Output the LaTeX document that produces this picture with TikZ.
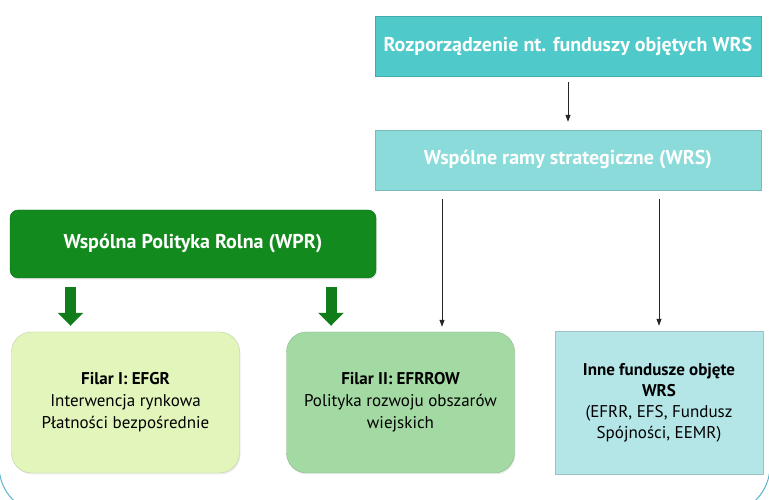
\documentclass[tikz,border=0pt]{standalone}
\usepackage{fontspec}
\setmainfont{PT Sans}
\usetikzlibrary{arrows.meta,shadows}
\definecolor{rozpteal}{HTML}{4FC9C9}
\definecolor{wrsteal}{HTML}{8BDBDB}
\definecolor{wprgreen}{HTML}{138A1D}
\definecolor{filarone}{HTML}{E2F5BB}
\definecolor{filartwo}{HTML}{A3D9A2}
\definecolor{fundblue}{HTML}{B4E6E8}
\definecolor{framecol}{HTML}{5AB4CC}
\tikzset{
  topbox/.style={draw=#1!85!black,fill=#1,minimum width=386pt,minimum height=60pt,
    text=white,font=\bfseries\fontsize{20}{22}\selectfont,
    drop shadow={opacity=0.15,shadow xshift=1pt,shadow yshift=-1.5pt}},
  wprbox/.style={draw=wprgreen!80!black,fill=wprgreen,rounded corners=8pt,
    minimum width=366pt,minimum height=68pt,text=white,
    font=\bfseries\fontsize{20}{22}\selectfont,
    drop shadow={opacity=0.2,shadow xshift=1pt,shadow yshift=-1.5pt}},
  pillar/.style={draw=#1!85!black,fill=#1,rounded corners=20pt,
    minimum width=228pt,minimum height=141pt,align=center,
    font=\fontsize{17}{22}\selectfont,
    drop shadow={opacity=0.15,shadow xshift=1pt,shadow yshift=-1.5pt}},
  fundbox/.style={draw=fundblue!85!black,fill=fundblue,minimum width=208pt,
    minimum height=143pt,align=center,font=\fontsize{17}{21}\selectfont,
    drop shadow={opacity=0.15,shadow xshift=1pt,shadow yshift=-1.5pt}},
  link/.style={-{Triangle[width=5pt,length=7pt]},draw=black!85,line width=0.8pt},
  bigarr/.style={line width=11pt,draw=wprgreen!90!black,
    -{Triangle[width=25pt,length=13pt]},shorten <=9pt,shorten >=6pt},
  frame/.style={draw=framecol,line width=1pt,rounded corners=48pt}
}
\begin{document}
\begin{tikzpicture}[x=1pt,y=1pt]
\useasboundingbox (0,0) rectangle (769,500);
\clip (0,0) rectangle (769,500);
\draw[frame] (-1,-14) rectangle (770,560);

\node[topbox=rozpteal] (rozp) at (568,454) {Rozporządzenie nt. funduszy objętych WRS};
\node[topbox=wrsteal] (wrs) at (568,340) {Wspólne ramy strategiczne (WRS)};
\node[wprbox] (wpr) at (193,256) {Wspólna Polityka Rolna (WPR)};

\node[pillar=filarone] (filar1) at (125.5,97.5) {\textbf{Filar I: EFGR}\\Interwencja rynkowa\\Płatności bezpośrednie};
\node[pillar=filartwo] (filar2) at (400.5,97.5) {\textbf{Filar II: EFRROW}\\Polityka rozwoju obszarów\\wiejskich};
\node[fundbox] (inne) at (659,97.5) {\textbf{Inne fundusze objęte}\\\textbf{WRS}\\(EFRR, EFS, Fundusz\\Spójności, EEMR)};

% thin arrows from the WRS boxes
\coordinate (a1) at (442,0);
\draw[link,shorten <=6pt,shorten >=8pt] (rozp) -- (wrs);
\draw[link,shorten <=9pt,shorten >=5pt] (wrs.south -| a1) -- (filar2.north -| a1);
\draw[link,shorten <=9pt,shorten >=5pt] (wrs.south -| inne) -- (inne.north);

% green block arrows from WPR
\coordinate (g1) at (70.5,0);
\coordinate (g2) at (331,0);
\draw[bigarr] (wpr.south -| g1) -- (filar1.north -| g1);
\draw[bigarr] (wpr.south -| g2) -- (filar2.north -| g2);
\end{tikzpicture}
\end{document}
